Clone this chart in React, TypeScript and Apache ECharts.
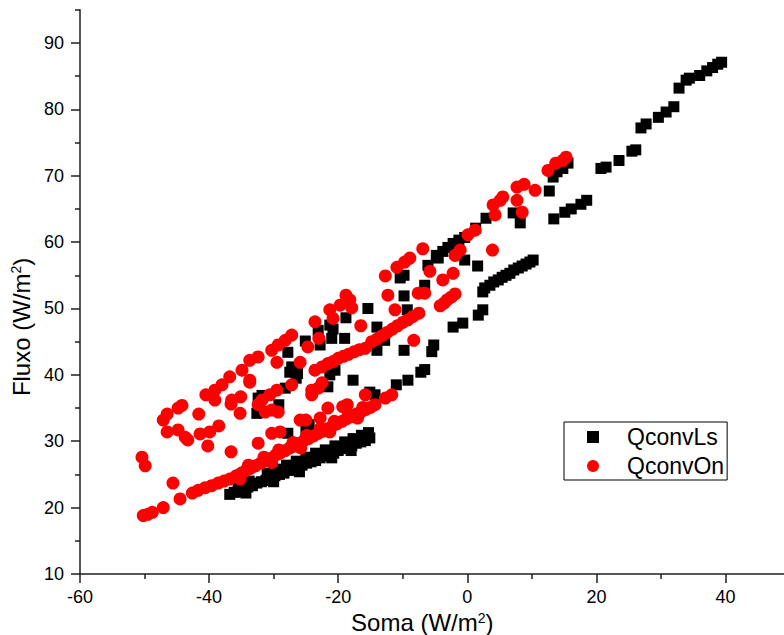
import React, { useEffect, useRef } from "react";
import * as echarts from "echarts";

const FONT = "'Liberation Sans', Arial, Helvetica, sans-serif";

const xTickValues = [-60, -40, -20, 0, 20, 40];
const yTickValues = [10, 20, 30, 40, 50, 60, 70, 80, 90];
const yMinorTickValues = [15, 25, 35, 45, 55, 65, 75, 85, 95];

// QconvLs (black squares)
const lsLowerBand: [number, number][] = [
  [-36.8, 22.0], [-36.1, 22.3], [-35.4, 22.4], [-34.7, 22.9], [-34.0, 23.1], [-33.3, 23.3], [-32.6, 23.7],
  [-31.9, 23.9], [-31.2, 24.1], [-30.5, 24.5], [-29.8, 24.8], [-29.1, 25.0], [-28.4, 25.2], [-27.7, 25.6],
  [-27.0, 25.8], [-26.3, 26.0], [-25.6, 26.4], [-24.9, 26.7], [-24.2, 26.9], [-23.5, 27.1], [-22.8, 27.5],
  [-22.1, 27.8], [-21.4, 28.0], [-20.7, 28.2], [-20.0, 28.6], [-19.3, 28.9], [-18.6, 29.1], [-17.9, 29.3],
  [-17.2, 29.7], [-16.5, 29.9], [-15.8, 30.1], [-15.1, 30.5],
  [-35.5, 23.4], [-33.8, 24.0], [-31.0, 25.2], [-29.5, 25.8], [-28.0, 26.4], [-26.5, 27.0], [-25.0, 27.6],
  [-23.5, 28.2], [-22.0, 28.7], [-20.5, 29.3], [-19.0, 29.9], [-17.7, 30.4], [-16.4, 30.9], [-15.3, 31.3],
  [-34.3, 22.2], [-30.0, 23.9], [-26.0, 25.4], [-21.0, 27.5], [-18.0, 28.6],
];
const lsLeftCluster: [number, number][] = [
  [-32.6, 34.2], [-32.4, 36.5], [-31.8, 36.9], [-29.2, 35.5], [-28.2, 38.0], [-27.8, 31.2], [-27.5, 40.4],
  [-27.2, 41.2], [-26.5, 39.5], [-26.3, 40.2], [-25.0, 32.0], [-24.5, 32.5], [-21.6, 38.2], [-21.3, 40.0],
  [-20.5, 40.7], [-17.7, 39.2], [-15.1, 37.4], [-14.3, 37.0], [-14.0, 43.7], [-9.8, 43.7], [-27.8, 43.4],
];
const lsUpperChain: [number, number][] = [
  [-25.1, 45.1], [-23.1, 46.7], [-22.8, 44.5], [-21.3, 47.5], [-21.0, 45.5], [-20.8, 46.9], [-19.0, 45.5],
  [-18.8, 48.6], [-15.4, 50.0], [-14.0, 47.2], [-12.8, 45.2], [-10.4, 54.6], [-9.8, 55.0], [-9.8, 51.9],
  [-9.3, 49.8], [-6.6, 53.5], [-6.1, 56.5], [-4.8, 58.0], [-4.5, 57.6], [-3.8, 58.6], [-3.0, 59.2],
  [-2.2, 59.8], [-1.3, 60.3], [-0.4, 60.7], [-0.4, 57.3], [1.6, 56.4], [1.3, 62.1], [2.9, 63.6],
  [7.1, 64.4], [8.2, 62.9], [12.7, 67.7], [13.3, 69.8], [13.9, 70.6], [14.8, 71.1], [15.6, 71.9],
];
const lsMiddleChain: [number, number][] = [
  [-11.0, 38.5], [-9.2, 39.2], [-7.2, 40.4], [-6.6, 40.8], [-5.5, 43.5], [-5.2, 44.5], [-2.2, 47.2],
  [-0.7, 47.8], [1.7, 49.0], [2.4, 49.8], [2.4, 52.5], [2.7, 53.1], [3.5, 53.5], [4.1, 54.0], [4.8, 54.3],
  [5.4, 54.7], [6.0, 55.0], [6.6, 55.3], [7.2, 55.8], [7.9, 56.1], [8.5, 56.4], [9.1, 56.7], [9.7, 57.0],
  [10.2, 57.3],
];
const lsRightChain: [number, number][] = [
  [13.4, 63.5], [15.1, 64.5], [16.1, 65.0], [17.6, 65.7], [18.5, 66.3], [20.7, 71.1], [21.5, 71.3],
  [23.5, 72.3], [25.5, 73.7], [26.1, 73.9], [26.9, 77.2], [27.7, 77.8], [29.6, 78.8], [30.8, 79.6],
  [32.0, 80.4], [32.8, 83.2], [33.9, 84.4], [34.4, 84.7], [36.0, 85.1], [37.1, 85.8], [38.0, 86.3],
  [38.8, 86.8], [39.4, 87.1],
];

// QconvOn (red circles)
const onLowerBand: [number, number][] = [
  [-50.2, 18.8], [-49.5, 19.0], [-48.8, 19.3], [-47.1, 20.0], [-44.5, 21.3], [-42.6, 22.2], [-41.7, 22.6],
  [-40.6, 23.0], [-39.6, 23.3], [-38.6, 23.7], [-37.7, 24.0], [-36.8, 24.3], [-35.8, 24.8], [-35.0, 25.2],
  [-34.3, 25.6], [-33.6, 25.9], [-32.8, 26.3], [-32.0, 26.7], [-31.2, 27.1], [-30.5, 27.4], [-29.7, 27.9],
  [-29.0, 28.2], [-28.2, 28.6], [-27.5, 29.0], [-26.8, 29.3], [-26.0, 29.7], [-25.3, 30.1], [-24.6, 30.4],
  [-23.8, 30.8], [-23.1, 31.2], [-22.4, 31.5], [-21.6, 31.9], [-20.9, 32.3], [-20.2, 32.6], [-19.4, 33.0],
  [-18.7, 33.4], [-18.0, 33.7], [-17.2, 34.1], [-16.5, 34.4], [-15.7, 34.8], [-15.0, 35.1], [-14.3, 35.5],
  [-35.2, 24.3], [-33.9, 26.4], [-31.5, 27.6], [-30.3, 26.8], [-29.2, 28.7], [-27.0, 29.8], [-25.8, 29.0],
  [-24.9, 30.9], [-22.8, 31.9], [-21.3, 31.4], [-20.6, 33.0], [-18.4, 34.1], [-17.0, 33.5], [-16.2, 35.1],
];
const onMiddleStreak: [number, number][] = [
  [-22.5, 41.2], [-21.6, 41.7], [-20.8, 42.0], [-20.0, 42.5], [-19.2, 42.8], [-18.4, 43.1], [-17.5, 43.5],
  [-16.7, 43.8], [-15.8, 44.0], [-14.8, 45.0], [-14.0, 45.4], [-13.2, 45.9], [-12.4, 46.4], [-11.6, 46.9],
  [-10.8, 47.4], [-10.0, 47.9], [-9.2, 48.3], [-8.4, 48.8], [-7.5, 49.3], [-4.2, 50.4], [-3.6, 50.8],
  [-3.1, 51.3], [-2.5, 51.7], [-1.9, 52.2],
];
const onUpperCloud: [number, number][] = [
  [-50.4, 27.6], [-49.9, 26.3], [-47.1, 33.2], [-46.5, 34.1], [-44.8, 35.0], [-44.2, 35.4], [-46.5, 31.4],
  [-44.8, 31.7], [-43.7, 30.6], [-43.3, 30.2], [-41.4, 31.1], [-39.9, 31.4], [-40.2, 29.3], [-41.6, 34.1],
  [-38.5, 32.3], [-36.6, 28.4], [-45.6, 23.7], [-40.5, 37.0], [-39.1, 37.7], [-38.0, 38.5], [-36.8, 39.7],
  [-39.1, 36.2], [-36.6, 35.6], [-35.2, 34.2], [-35.1, 36.7], [-33.7, 38.9], [-32.4, 29.7], [-30.3, 31.2],
  [-29.0, 31.4], [-31.8, 36.2], [-30.6, 37.0], [-29.5, 37.7], [-30.3, 34.7], [-27.2, 38.5], [-25.9, 33.2],
  [-24.1, 37.0], [-23.1, 38.0], [-22.5, 38.8], [-22.8, 33.5], [-34.9, 40.7], [-33.7, 42.2], [-32.4, 42.7],
  [-33.7, 39.2], [-36.5, 36.2], [-32.4, 35.5], [-31.3, 34.4], [-29.3, 34.4], [-30.3, 43.7], [-29.3, 44.5],
  [-29.5, 41.9], [-28.2, 45.2], [-27.2, 46.0], [-25.9, 41.9], [-24.7, 44.2], [-23.0, 45.5], [-23.6, 40.7],
  [-24.1, 37.7], [-23.6, 48.0], [-21.3, 49.8], [-19.7, 50.5], [-20.8, 48.5], [-18.2, 51.3], [-18.8, 52.0],
  [-17.9, 50.1], [-16.5, 47.4], [-19.3, 35.2], [-25.0, 33.2], [-12.7, 36.5], [-11.7, 37.0], [-15.8, 37.0],
  [-18.6, 35.5], [-21.6, 35.0], [-8.3, 45.2], [-12.7, 54.9], [-12.3, 52.0], [-11.2, 49.8], [-7.6, 52.3],
  [-6.6, 52.3], [-10.9, 56.2], [-9.7, 57.0], [-8.9, 57.6], [-6.9, 59.0], [-5.8, 55.6], [-3.8, 54.3],
  [-2.2, 55.3], [-1.9, 58.0], [-1.1, 58.8], [0.1, 61.1], [1.2, 61.8], [3.9, 58.8], [4.3, 64.1], [4.0, 65.6],
  [5.1, 66.3], [5.5, 66.8], [7.7, 66.3], [8.5, 64.5], [7.7, 68.3], [8.8, 68.7], [10.5, 67.8], [12.5, 70.8],
  [13.7, 71.9], [14.8, 72.3], [15.3, 72.8],
];

const qconvLs = [...lsLowerBand, ...lsLeftCluster, ...lsUpperChain, ...lsMiddleChain, ...lsRightChain];
const qconvOn = [...onLowerBand, ...onMiddleStreak, ...onUpperCloud];

const AXIS_COLOR = "#1f1f1f";

export default function App() {
  const ref = useRef<HTMLDivElement>(null);
  useEffect(() => {
    if (!ref.current) return;
    const chart = echarts.init(ref.current, undefined, { renderer: "svg" });
    const nameStyle = {
      fontSize: 24,
      fontFamily: FONT,
      color: "#000",
      lineHeight: 24,
      rich: {
        sup: { fontSize: 14, lineHeight: 14, verticalAlign: "top", padding: [0, 0, 4, 0], fontFamily: FONT, color: "#000" },
      },
    };
    chart.setOption({
      animation: false,
      backgroundColor: "#fff",
      grid: {
        left: 80,
        top: 9.8,
        width: 774.6,
        height: 564.2,
        containLabel: false,
        outerBoundsMode: "none",
      },
      legend: {
        orient: "vertical",
        left: 564,
        top: 422,
        data: [
          { name: "QconvLs", icon: "rect" },
          { name: "QconvOn", icon: "circle" },
        ],
        itemWidth: 12,
        itemHeight: 12,
        itemGap: 5,
        padding: [3, 3, 2, 23],
        borderColor: "#000",
        borderWidth: 1,
        selectedMode: false,
        textStyle: { fontSize: 23, fontFamily: FONT, color: "#000", lineHeight: 24, padding: [0, 0, 0, 23] },
      },
      xAxis: {
        type: "value",
        min: -60,
        max: 60,
        interval: 20,
        name: "Soma (W/m{sup|2})",
        nameLocation: "middle",
        nameGap: 27,
        nameTextStyle: { ...nameStyle, padding: [0, 90, 0, 0] },
        axisLine: { show: true, onZero: false, lineStyle: { color: AXIS_COLOR, width: 1.5 } },
        axisTick: { show: true, length: 9, lineStyle: { color: AXIS_COLOR, width: 1.5 } },
        minorTick: { show: true, splitNumber: 2, length: 5, lineStyle: { color: AXIS_COLOR, width: 1.5 } },
        splitLine: { show: false },
        minorSplitLine: { show: false },
        axisLabel: {
          fontSize: 18,
          fontFamily: FONT,
          color: "#000",
          margin: 14,
          customValues: xTickValues,
        },
      },
      yAxis: [
        {
          type: "value",
          min: 10,
          max: 95,
          interval: 10,
          name: "Fluxo (W/m{sup|2})",
          nameLocation: "middle",
          nameGap: 33,
          nameTextStyle: { ...nameStyle, padding: [0, 70, 0, 0] },
          axisLine: { show: true, onZero: false, lineStyle: { color: AXIS_COLOR, width: 1.5 } },
          axisTick: { show: true, length: 9, customValues: yTickValues, lineStyle: { color: AXIS_COLOR, width: 1.5 } },
          splitLine: { show: false },
          axisLabel: {
            fontSize: 18,
            fontFamily: FONT,
            color: "#000",
            margin: 16,
            customValues: yTickValues,
          },
        },
        {
          type: "value",
          min: 10,
          max: 95,
          interval: 5,
          position: "left",
          offset: 0,
          axisLine: { show: false, onZero: false },
          axisTick: { show: true, length: 5, customValues: yMinorTickValues, lineStyle: { color: AXIS_COLOR, width: 1.5 } },
          axisLabel: { show: false },
          splitLine: { show: false },
        },
      ],
      series: [
        {
          name: "QconvLs",
          type: "scatter",
          symbol: "rect",
          symbolSize: 11,
          itemStyle: { color: "#000", opacity: 1 },
          data: qconvLs,
          z: 2,
        },
        {
          name: "QconvOn",
          type: "scatter",
          symbol: "circle",
          symbolSize: 13,
          itemStyle: { color: "#ff0000", opacity: 1 },
          data: qconvOn,
          z: 3,
        },
      ],
    });
    return () => chart.dispose();
  }, []);
  return (
    <div
      ref={ref}
      style={{ position: "fixed", left: 0, top: 0, width: 784, height: 635, background: "#fff" }}
    />
  );
}
